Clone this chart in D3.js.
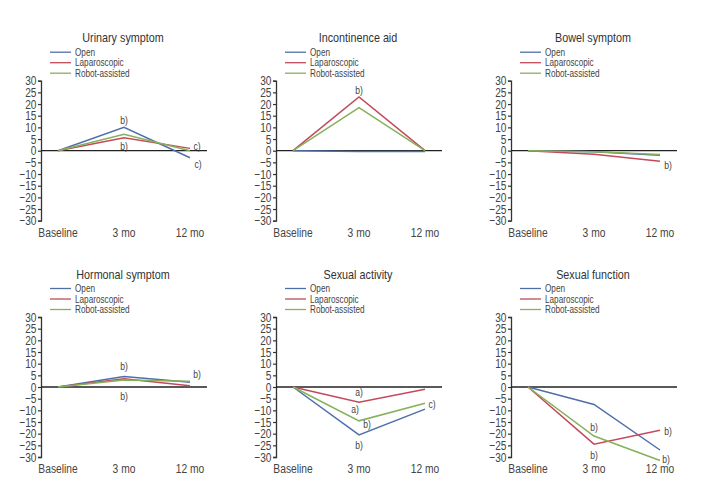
<!DOCTYPE html>
<html><head><meta charset="utf-8">
<script src="https://cdn.jsdelivr.net/npm/d3@7"></script>
<style>
body{margin:0;background:#fff;}
svg text{font-family:"Liberation Sans",Arial,sans-serif;fill:#444;}
</style></head>
<body><svg id="c" width="704" height="489"></svg>
<script>
const timepoints = ["Baseline", "3 mo", "12 mo"];
const seriesNames = ["Open", "Laparoscopic", "Robot-assisted"];
const seriesColors = ["#4e6fa8", "#c24a5c", "#86b05a"];
const panelTitles = ["Urinary symptom", "Incontinence aid", "Bowel symptom", "Hormonal symptom", "Sexual activity", "Sexual function"];
const yTicks = [30, 25, 20, 15, 10, 5, 0, -5, -10, -15, -20, -25, -30];

const openValues = [
  [0, 10, -3],
  [0, -0.3, -0.3],
  [0, -0.5, -2],
  [0, 4.5, 2],
  [0, -20.5, -9.5],
  [0, -7.5, -27]
];
const lapValues = [
  [0, 5.5, 1],
  [0, 23, 0],
  [0, -1.5, -4.5],
  [0, 3.5, 0.5],
  [0, -6.5, -1],
  [0, -24.5, -18.5]
];
const robotValues = [
  [0, 7, 0],
  [0, 18.5, 0],
  [0, -0.5, -1.6],
  [0, 3, 2.5],
  [0, -14.5, -7],
  [0, -21, -31.5]
];
// annotations: panel index, timepoint, value, label, x nudge
const notePanel = [0, 0, 0, 0, 1, 2, 3, 3, 3, 4, 4, 4, 4, 4, 5, 5, 5, 5];
const noteTime  = ["3 mo", "3 mo", "12 mo", "12 mo", "3 mo", "12 mo", "3 mo", "3 mo", "12 mo", "3 mo", "3 mo", "3 mo", "3 mo", "12 mo", "3 mo", "3 mo", "12 mo", "12 mo"];
const noteValue = [13, 2, 1.8, -5.8, 26, -6.3, 9, -4, 5.3, -2.2, -9.5, -16, -24.8, -7.3, -17.3, -29, -18.8, -30.8];
const noteText  = ["b)", "b)", "c)", "c)", "b)", "b)", "b)", "b)", "b)", "a)", "a)", "b)", "b)", "c)", "b)", "b)", "b)", "b)"];
const noteDx    = [0, 0, 7, 8, 0, 8, 0, 0, 7, 0, -4, 8, 0, 7, 0, 0, 8, 6];

const svg = d3.select("#c");
const axisXs = [41, 276, 511];
const topYs = [80.7, 317];

function ctext(g, x, y, str, size, anchor, sx, fill) {
  return g.append("text")
    .attr("transform", `translate(${x},${y}) scale(${sx},1)`)
    .attr("text-anchor", anchor).attr("dy", "0.35em")
    .style("font-size", size + "px").style("fill", fill || "#444").text(str);
}

panelTitles.forEach((title, i) => {
  const ax = axisXs[i % 3];
  const ty = topYs[Math.floor(i / 3)];
  const g = svg.append("g");
  const x = d3.scalePoint().domain(timepoints).range([ax + 17, ax + 149]);
  const y = d3.scaleLinear().domain([-30, 30]).range([ty + 140, ty]);

  ctext(g, ax + 82, ty - 43, title, 13, "middle", 0.83, "#333");

  seriesNames.forEach((s, k) => {
    const ly = ty - 28.5 + k * 10.5;
    g.append("line").attr("x1", ax + 9).attr("x2", ax + 30).attr("y1", ly).attr("y2", ly)
      .attr("stroke", seriesColors[k]).attr("stroke-width", 1.3);
    ctext(g, ax + 34, ly, s, 10, "start", 0.82, "#444");
  });

  const yAxis = d3.axisLeft(y).tickValues(yTicks).tickSize(3).tickPadding(2);
  const ya = g.append("g").attr("transform", `translate(${ax},0)`).call(yAxis);
  ya.select(".domain").attr("stroke", "#333").attr("stroke-width", 1.3);
  ya.selectAll(".tick line").attr("stroke", "#333").attr("stroke-width", 1.2);
  ya.selectAll(".tick text").attr("x", null)
    .attr("transform", `translate(-4.5,0) scale(0.78,1)`)
    .style("font-size", "13px").style("font-family", "'Liberation Sans',Arial,sans-serif").style("fill", "#444");

  g.append("line").attr("x1", ax).attr("x2", ax + 166).attr("y1", y(0)).attr("y2", y(0))
    .attr("stroke", "#222").attr("stroke-width", 1.3);

  timepoints.forEach(t => {
    ctext(g, x(t), ty + 151.5, t, 12.5, "middle", 0.82, "#444");
  });

  const line = d3.line().x((d, j) => x(timepoints[j])).y(d => y(d));
  [openValues[i], lapValues[i], robotValues[i]].forEach((vals, k) => {
    g.append("path").attr("d", line(vals)).attr("fill", "none")
      .attr("stroke", seriesColors[k]).attr("stroke-width", 1.5);
  });

  notePanel.forEach((p, n) => {
    if (p !== i) return;
    ctext(g, x(noteTime[n]) + noteDx[n], y(noteValue[n]), noteText[n], 11, "middle", 0.78, "#444");
  });
});
</script></body></html>
